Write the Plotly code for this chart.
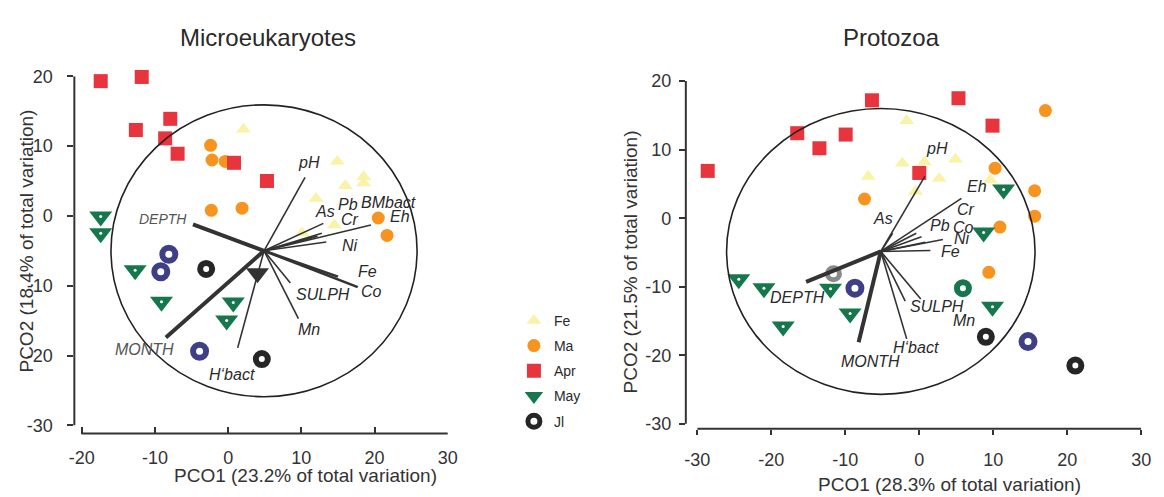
import plotly.graph_objects as go

W, H = 1164, 497

# ---------------- data : Microeukaryotes (left) ----------------
L_fe_x = [2.1, 14.9, 18.5, 18.5, 16.0, 12.0, 14.5, 10.1]
L_fe_y = [12.4, 7.8, 5.6, 4.7, 4.3, 2.5, -1.3, -2.45]
L_ma_x = [-2.4, -2.2, -0.4, -2.3, 1.9, 20.5, 21.7]
L_ma_y = [10.1, 8.0, 7.8, 0.8, 1.1, -0.3, -2.8]
L_apr_x = [-17.4, -11.8, -7.9, -12.6, -8.6, -6.9, 0.8, 5.3]
L_apr_y = [19.3, 19.9, 13.9, 12.3, 11.1, 8.9, 7.6, 5.0]
L_may_x = [-17.4, -17.4, -12.7, -9.1, 0.7, -0.2]
L_may_y = [-0.1, -2.5, -7.8, -12.3, -12.4, -15.0]
L_jl_x = [-3.0, 4.6]
L_jl_y = [-7.6, -20.5]
L_navy_x = [-8.1, -9.2, -3.9]
L_navy_y = [-5.5, -8.0, -19.4]
L_dark_x = [4.0]
L_dark_y = [-8.2]

L_center = (4.9, -5.0)
L_circle_r = 20.9
L_vec_names = ["pH", "DEPTH", "MONTH", "H‘bact", "Mn", "SULPH", "Co", "Fe",
               "Ni", "Eh", "BMbact", "Cr", "Pb", "As"]
L_vec_x = [10.5, -4.8, -8.5, 1.3, 9.6, 8.5, 17.7, 15.0, 13.4, 19.5, 12.8, 11.4, 12.2, 13.0]
L_vec_y = [5.5, -1.2, -17.4, -18.9, -14.7, -9.6, -10.2, -8.7, -3.75, -1.3, -2.5, -3.15, -2.9, -1.07]
L_lab_x = [11.0, -8.9, -11.4, 0.5, 11.1, 12.9, 19.6, 19.0, 16.7, 23.5, 21.9, 16.7, 16.3, 13.2]
L_lab_y = [7.7, -0.5, -19.1, -22.7, -16.3, -11.2, -10.8, -8.0, -4.3, -0.1, 1.95, -0.5, 1.6, 0.6]

# ---------------- data : Protozoa (right) ----------------
R_fe_x = [-1.7, -6.9, -2.3, 0.7, 4.9, 2.7, -0.5, 9.6]
R_fe_y = [14.2, 6.1, 8.0, 8.2, 8.6, 5.8, 3.9, 5.6]
R_ma_x = [-7.4, 17.05, 10.25, 15.6, 15.6, 10.9, 9.4]
R_ma_y = [2.8, 15.7, 7.3, 4.0, 0.3, -1.3, -7.9]
R_apr_x = [-28.6, -16.5, -13.5, -9.95, -6.4, 0.0, 5.3, 9.9]
R_apr_y = [6.9, 12.4, 10.2, 12.2, 17.2, 6.6, 17.5, 13.5]
R_may_x = [11.4, 8.7, -24.4, -21.0, -12.0, -9.35, -18.4, 9.9]
R_may_y = [4.2, -2.1, -8.9, -10.2, -10.3, -13.9, -15.8, -12.9]
R_jl_x = [9.0, 21.1]
R_jl_y = [-17.3, -21.5]
R_navy_x = [-8.7, 14.7]
R_navy_y = [-10.2, -18.0]
R_pale_x = [-11.6]
R_pale_y = [-8.1]
R_greenring_x = [5.9]
R_greenring_y = [-10.2]

R_center = (-5.2, -4.85)
R_circle_r = 20.85
R_vec_names = ["pH", "As", "Eh", "Cr", "Pb", "Co", "Ni", "Fe",
               "DEPTH", "MONTH", "H‘bact", "SULPH", "Mn"]
R_vec_x = [0.75, -3.6, 5.7, -0.4, 0.3, 0.8, 3.2, 1.5, -15.3, -8.2, -1.7, 0.2, -1.9]
R_vec_y = [6.1, -2.2, 2.9, -2.2, -2.7, -3.5, -3.1, -4.7, -9.3, -18.1, -17.6, -11.8, -12.1]
R_lab_x = [2.45, -4.9, 7.8, 6.3, 2.8, 6.0, 5.8, 4.2, -16.5, -6.6, -0.5, 2.4, 6.0]
R_lab_y = [10.2, 0.0, 4.6, 1.2, -1.0, -1.3, -2.9, -4.85, -11.5, -20.9, -18.8, -12.9, -14.9]

x_ticks_left = [-20, -10, 0, 10, 20, 30]
x_ticks_right = [-30, -20, -10, 0, 10, 20, 30]
y_ticks = [-30, -20, -10, 0, 10, 20]
x_labels_left = ["-20", "-10", "0", "10", "20", "30"]
x_labels_right = ["-30", "-20", "-10", "0", "10", "20", "30"]
y_labels = ["-30", "-20", "-10", "0", "10", "20"]

# ---------------- styling ----------------
FONT = "Liberation Sans, Arial, sans-serif"
INK = "#2a2a2a"
C_FE = "#F8F3A6"
C_MA = "#F7941F"
C_APR = "#E8343C"
C_MAY = "#17774C"
C_JL = "#262626"
C_NAVY = "#3E3F86"

thick = {"DEPTH": 4.0, "MONTH": 4.0}
medium_left = {"Fe": 2.6, "Co": 2.6}

fig = go.Figure()


def points(xs, ys, xa, ya, name, symbol, color, size, line_w=0, line_c=None,
           show=False, group=None):
    fig.add_trace(go.Scatter(
        x=xs, y=ys, xaxis=xa, yaxis=ya, mode="markers", name=name,
        legendgroup=group or name, showlegend=show, cliponaxis=False,
        hoverinfo="skip",
        marker=dict(symbol=symbol, color=color, size=size,
                    line=dict(width=line_w, color=line_c or color))))


def panel_points(fe_x, fe_y, ma_x, ma_y, apr_x, apr_y, may_x, may_y, jl_x, jl_y,
                 xa, ya, show):
    points(fe_x, fe_y, xa, ya, "Fe", "triangle-up", C_FE, 13, show=show)
    points(ma_x, ma_y, xa, ya, "Ma", "circle", C_MA, 13, show=show)
    points(apr_x, apr_y, xa, ya, "Apr", "square", C_APR, 14, show=show)
    points(may_x, may_y, xa, ya, "May", "triangle-down", C_MAY, 20, show=show)
    points(may_x, may_y, xa, ya, "May dot", "circle", "white", 3, group="May")
    points(jl_x, jl_y, xa, ya, "Jl", "circle-open", C_JL, 12, line_w=6, show=show)


# left panel markers
panel_points(L_fe_x, L_fe_y, L_ma_x, L_ma_y, L_apr_x, L_apr_y, L_may_x, L_may_y,
             L_jl_x, L_jl_y, "x", "y", True)
points(L_navy_x, L_navy_y, "x", "y", "navy", "circle-open", C_NAVY, 13, line_w=6)
points(L_dark_x, L_dark_y, "x", "y", "dark", "triangle-down", "#333333", 20)

# right panel markers
panel_points(R_fe_x, R_fe_y, R_ma_x, R_ma_y, R_apr_x, R_apr_y, R_may_x, R_may_y,
             R_jl_x, R_jl_y, "x2", "y2", False)
points(R_navy_x, R_navy_y, "x2", "y2", "navy2", "circle-open", C_NAVY, 13, line_w=6)
points(R_pale_x, R_pale_y, "x2", "y2", "pale", "circle-open", "#8a8a8a", 12, line_w=5)
points(R_greenring_x, R_greenring_y, "x2", "y2", "gring", "circle-open", C_MAY, 12, line_w=6)


def vectors(center, names, vx, vy, xa, ya, widths):
    groups = {}
    for n, ex, ey in zip(names, vx, vy):
        w = widths.get(n, 1.6)
        gx, gy = groups.setdefault(w, ([], []))
        gx += [center[0], ex, None]
        gy += [center[1], ey, None]
    for w, (gx, gy) in groups.items():
        fig.add_trace(go.Scatter(x=gx, y=gy, xaxis=xa, yaxis=ya, mode="lines",
                                 line=dict(color="#333333", width=w),
                                 showlegend=False, hoverinfo="skip",
                                 cliponaxis=False))


vectors(L_center, L_vec_names, L_vec_x, L_vec_y, "x", "y", {**thick, **medium_left})
vectors(R_center, R_vec_names, R_vec_x, R_vec_y, "x2", "y2", thick)

annotations = []
for n, lx, ly in zip(L_vec_names, L_lab_x, L_lab_y):
    annotations.append(dict(x=lx, y=ly, xref="x", yref="y", text="<i>%s</i>" % n,
                            showarrow=False, xanchor="center", yanchor="middle",
                            font=dict(size=14 if n == "DEPTH" else 16,
                                      color="#555555" if n in ("DEPTH", "MONTH") else INK,
                                      family=FONT)))
for n, lx, ly in zip(R_vec_names, R_lab_x, R_lab_y):
    annotations.append(dict(x=lx, y=ly, xref="x2", yref="y2", text="<i>%s</i>" % n,
                            showarrow=False, xanchor="center", yanchor="middle",
                            font=dict(size=16, color=INK, family=FONT)))


def paper_text(px, py, text, size, angle=0, color=INK):
    annotations.append(dict(x=px / W, y=1 - py / H, xref="paper", yref="paper",
                            text=text, showarrow=False, textangle=angle,
                            xanchor="center", yanchor="middle",
                            font=dict(size=size, color=color, family=FONT)))


# titles and axis titles
paper_text(266, 28, "Microeukaryotes", 24)
paper_text(898, 28, "Protozoa", 24)
paper_text(304, 480, "PCO1 (23.2% of total variation)", 19, color="#333333")
paper_text(957, 489, "PCO1 (28.3% of total variation)", 19, color="#333333")
paper_text(21, 238, "PCO2 (18.4% of total variation)", 19, angle=-90, color="#333333")
paper_text(633, 260, "PCO2 (21.5% of total variation)", 19, angle=-90, color="#333333")

# correlation circles and axis lines
shapes = [
    dict(type="circle", xref="x", yref="y", layer="above",
         x0=L_center[0] - L_circle_r, x1=L_center[0] + L_circle_r,
         y0=L_center[1] - L_circle_r, y1=L_center[1] + L_circle_r,
         line=dict(color="#222222", width=1.6)),
    dict(type="circle", xref="x2", yref="y2", layer="above",
         x0=R_center[0] - R_circle_r, x1=R_center[0] + R_circle_r,
         y0=R_center[1] - R_circle_r, y1=R_center[1] + R_circle_r,
         line=dict(color="#222222", width=1.6)),
    dict(type="line", xref="x", yref="y domain", x0=x_ticks_left[0], x1=x_ticks_left[-1],
         y0=0, y1=0, line=dict(color="#333333", width=2)),
    dict(type="line", xref="x domain", yref="y", x0=0, x1=0, y0=y_ticks[0], y1=y_ticks[-1],
         line=dict(color="#333333", width=2)),
    dict(type="line", xref="x2", yref="y2 domain", x0=x_ticks_right[0], x1=x_ticks_right[-1],
         y0=0, y1=0, line=dict(color="#333333", width=2)),
    dict(type="line", xref="x2 domain", yref="y2", x0=0, x1=0, y0=y_ticks[0], y1=y_ticks[-1],
         line=dict(color="#333333", width=2)),
]

L_xdom = [69.3 / W, 448 / W]
L_ydom = [1 - 436.7 / H, 1 - 68.3 / H]
R_xdom = [689.3 / W, 1151 / W]
R_ydom = [1 - 431.7 / H, 1 - 73.3 / H]
L_xr = [-21.0, 30]
L_yr = [-31.17, 20]
R_xr = [-31.56, 30]
R_yr = [-30.7, 20]

tickfont = dict(size=18, color="#333333", family=FONT)
common = dict(showgrid=False, zeroline=False, showline=False, tickcolor="#333333",
              tickwidth=1.5, tickfont=tickfont, fixedrange=True)

fig.update_layout(
    width=W, height=H, margin=dict(l=0, r=0, t=0, b=0),
    paper_bgcolor="white", plot_bgcolor="white",
    font=dict(family=FONT, color=INK),
    xaxis=dict(domain=L_xdom, range=L_xr, anchor="y", tickvals=x_ticks_left,
               ticktext=x_labels_left,
               ticks="inside", ticklen=7, ticklabelstandoff=11, **common),
    yaxis=dict(domain=L_ydom, range=L_yr, anchor="x", tickvals=y_ticks,
               ticktext=y_labels,
               ticks="outside", ticklen=6, ticklabelstandoff=11, **common),
    yaxis3=dict(range=L_yr, overlaying="y", anchor="x", tickvals=y_ticks,
                ticks="inside", ticklen=6, showticklabels=False, **common),
    xaxis2=dict(domain=R_xdom, range=R_xr, anchor="y2", tickvals=x_ticks_right,
                ticktext=x_labels_right,
                ticks="outside", ticklen=5, ticklabelstandoff=10, **common),
    xaxis4=dict(range=R_xr, overlaying="x2", anchor="y2", tickvals=x_ticks_right,
                ticks="inside", ticklen=4, showticklabels=False, **common),
    yaxis2=dict(domain=R_ydom, range=R_yr, anchor="x2", tickvals=y_ticks,
                ticktext=y_labels,
                ticks="outside", ticklen=6, ticklabelstandoff=4, **common),
    yaxis4=dict(range=R_yr, overlaying="y2", anchor="x2", tickvals=y_ticks,
                ticks="inside", ticklen=6, showticklabels=False, **common),
    legend=dict(x=515 / W, y=1 - 304 / H, xanchor="left", yanchor="top",
                bgcolor="rgba(0,0,0,0)", font=dict(size=14, color=INK, family=FONT),
                tracegroupgap=4, itemsizing="trace", itemwidth=30),
    annotations=annotations, shapes=shapes,
)

fig.write_html("out.html")
